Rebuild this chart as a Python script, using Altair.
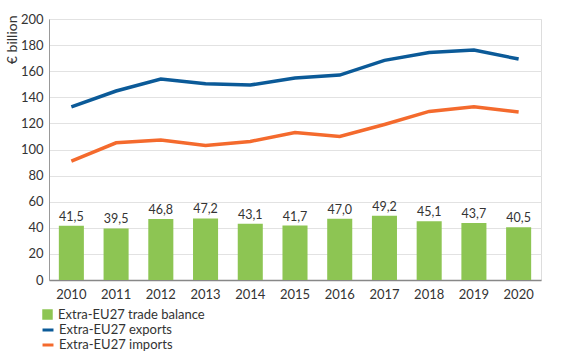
import altair as alt
import pandas as pd

years = [str(y) for y in range(2010, 2021)]
balance = [41.5, 39.5, 46.8, 47.2, 43.1, 41.7, 47.0, 49.2, 45.1, 43.7, 40.5]
exports = [132.6, 144.8, 154.0, 150.3, 149.4, 154.8, 157.0, 168.3, 174.3, 176.2, 169.3]
imports = [91.1, 105.1, 107.2, 103.0, 106.2, 113.0, 110.0, 119.2, 129.2, 132.7, 128.8]

FONT = "Lato"
GREEN = "#8DC553"
BLUE = "#0B5A98"
ORANGE = "#F46A2D"

bars_df = pd.DataFrame({
    "year": years,
    "value": balance,
    "label": [f"{v:.1f}".replace(".", ",") for v in balance],
    "series": ["Extra-EU27 trade balance"] * len(years),
})
lines_df = pd.DataFrame({
    "year": years * 2,
    "value": exports + imports,
    "series": ["Extra-EU27 exports"] * len(years) + ["Extra-EU27 imports"] * len(years),
})

x = alt.X("year:N", title=None,
          scale=alt.Scale(paddingInner=0.44, paddingOuter=0.22),
          axis=alt.Axis(labelAngle=0, ticks=False, labelPadding=8, domainColor="#888",
                        domainWidth=1.5, labelFontSize=13, labelColor="#333", labelFont=FONT))
y = alt.Y("value:Q", title="€ billion",
          scale=alt.Scale(domain=[0, 200], nice=False),
          axis=alt.Axis(values=list(range(0, 201, 20)), ticks=False, domainColor="#999",
                        gridColor="#e2e2e2", labelFontSize=13, labelColor="#333", labelFont=FONT,
                        labelPadding=6, labelOverlap=False, titleFont=FONT, titleFontSize=14,
                        titleColor="#333", titleFontWeight="normal", titleAngle=270,
                        titleAlign="right", titleBaseline="bottom", titleX=-30, titleY=-4))

bars = alt.Chart(bars_df).mark_bar().encode(
    x=x, y=y,
    color=alt.Color("series:N", scale=alt.Scale(range=[GREEN]),
                    legend=alt.Legend(title=None, orient="none", legendX=-8, legendY=289,
                                      symbolType="square", symbolSize=110, symbolStrokeWidth=0,
                                      labelFont=FONT, labelFontSize=13, labelColor="#333",
                                      labelOffset=4)),
)
labels = alt.Chart(bars_df).mark_text(dy=-9, font=FONT, fontSize=12.5, color="#333").encode(
    x=x, y=y, text="label:N")
lines = alt.Chart(lines_df).mark_line(strokeWidth=3.5).encode(
    x=x, y=y,
    color=alt.Color("series:N", scale=alt.Scale(domain=["Extra-EU27 exports", "Extra-EU27 imports"],
                                                range=[BLUE, ORANGE]),
                    legend=alt.Legend(title=None, orient="none", legendX=-8, legendY=304,
                                      symbolType="stroke", symbolSize=120, symbolStrokeWidth=3,
                                      labelFont=FONT, labelFontSize=13, labelColor="#333",
                                      labelOffset=4, rowPadding=1)),
)

chart = alt.layer(bars, labels, lines).resolve_scale(color="independent").properties(
    width=492, height=261,
    padding={"left": 49, "top": 19, "right": 42, "bottom": 75},
    autosize=alt.AutoSizeParams(type="none"),
).configure_view(stroke=None).configure(background="white")

chart.save("out.html", embed_options={"renderer": "svg", "actions": False})
